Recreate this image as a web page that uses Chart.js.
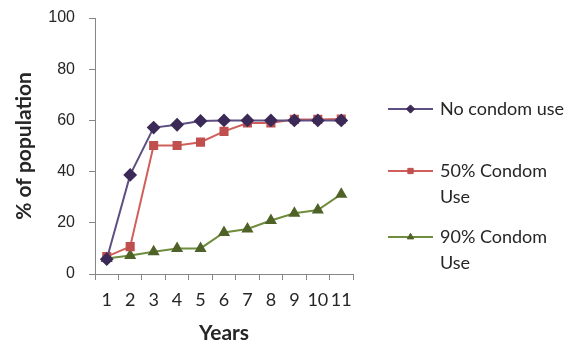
<!DOCTYPE html>
<html>
<head>
<meta charset="utf-8">
<script src="https://cdn.jsdelivr.net/npm/chart.js@4/dist/chart.umd.min.js"></script>
<style>
  html, body { margin: 0; padding: 0; background: #ffffff; }
  #wrap { width: 585px; height: 346px; position: relative; }
</style>
</head>
<body>
<div id="wrap"><canvas id="c" width="585" height="346"></canvas></div>
<script>
// Years since start
const years = ['1', '2', '3', '4', '5', '6', '7', '8', '9', '10', '11'];

// Share of population infected (%) under each scenario
const noCondom = [5.8, 38.7, 57.2, 58.3, 59.8, 60, 60, 60, 60, 60, 60];
const condom50 = [6.8, 10.7, 50.2, 50.2, 51.5, 55.7, 59, 59, 60.4, 60.4, 60.5];
const condom90 = [6.1, 7.2, 8.7, 10, 10, 16.2, 17.6, 20.9, 23.7, 25, 31.2];

// Legend texts, one array per entry (wrapped lines)
const legendLines = [['No condom use'], ['50% Condom', 'Use'], ['90% Condom', 'Use']];

const yTicks = [0, 20, 40, 60, 80, 100];

const axisGray = '#868686';
const textDark = '#262626';

// Legend drawn beside the plot, with wrapped labels
const sideLegend = {
  id: 'sideLegend',
  afterDraw(chart) {
    const ctx = chart.ctx;
    const rows = [109, 171, 237];
    const x0 = 388, x1 = 433, tx = 440, lineGap = 26;
    ctx.save();
    chart.data.datasets.forEach((ds, i) => {
      const y = rows[i];
      ctx.strokeStyle = ds.borderColor;
      ctx.lineWidth = ds.borderWidth;
      ctx.beginPath();
      ctx.moveTo(x0, y);
      ctx.lineTo(x1, y);
      ctx.stroke();
      ctx.fillStyle = ds.pointBackgroundColor;
      ctx.strokeStyle = ds.pointBorderColor;
      ctx.lineWidth = 1;
      Chart.helpers.drawPoint(ctx, {
        pointStyle: ds.pointStyle,
        radius: ds.pointRadius * 0.75,
        borderWidth: 1
      }, (x0 + x1) / 2, y);
      ctx.fillStyle = textDark;
      ctx.font = '18px Lato';
      ctx.textBaseline = 'middle';
      ctx.textAlign = 'left';
      legendLines[i].forEach((t, k) => ctx.fillText(t, tx, y + k * lineGap));
    });
    ctx.restore();
  }
};

new Chart(document.getElementById('c'), {
  type: 'line',
  data: {
    labels: years,
    datasets: [
      {
        label: 'No condom use',
        data: noCondom,
        borderColor: '#5e4f82',
        borderWidth: 2,
        pointStyle: 'rectRot',
        pointRadius: 5.5,
        pointBackgroundColor: '#3b2a57',
        pointBorderColor: '#3b2a57',
        tension: 0
      },
      {
        label: '50% Condom Use',
        data: condom50,
        borderColor: '#d05f5c',
        borderWidth: 2,
        pointStyle: 'rect',
        pointRadius: 5,
        pointBackgroundColor: '#c0504d',
        pointBorderColor: '#c0504d',
        tension: 0
      },
      {
        label: '90% Condom Use',
        data: condom90,
        borderColor: '#6f8d3c',
        borderWidth: 2,
        pointStyle: 'triangle',
        pointRadius: 5,
        pointBackgroundColor: '#4f6228',
        pointBorderColor: '#4f6228',
        tension: 0
      }
    ]
  },
  options: {
    responsive: false,
    animation: false,
    devicePixelRatio: 1,
    layout: { padding: { left: 0, right: 232, top: 18, bottom: 0 } },
    plugins: { legend: { display: false }, tooltip: { enabled: false } },
    scales: {
      x: {
        type: 'category',
        offset: true,
        grid: {
          offset: true,
          drawOnChartArea: false,
          drawTicks: true,
          tickLength: 6,
          color: axisGray
        },
        border: { color: axisGray, width: 1 },
        ticks: {
          color: textDark,
          font: { family: 'Lato', size: 18 },
          padding: 9,
          maxRotation: 0,
          autoSkip: false
        },
        title: {
          display: true,
          text: 'Years',
          color: textDark,
          font: { family: 'Lato', size: 21, weight: 'bold' },
          padding: { top: 0, bottom: 0 }
        },
        afterFit(scale) { scale.height = 72; scale.paddingLeft = 0; scale.paddingRight = 0; }
      },
      y: {
        min: 0,
        max: 100,
        afterBuildTicks(scale) { scale.ticks = yTicks.map(v => ({ value: v })); },
        grid: {
          drawOnChartArea: false,
          drawTicks: true,
          tickLength: 6,
          color: axisGray
        },
        border: { color: axisGray, width: 1 },
        ticks: {
          color: textDark,
          font: { family: 'Liberation Sans', size: 16 },
          padding: 14
        },
        title: {
          display: true,
          text: '% of population',
          color: textDark,
          font: { family: 'Lato', size: 21, weight: 'bold' },
          padding: { top: 12, bottom: 0 }
        },
        afterFit(scale) { scale.width = 95; scale.paddingTop = 0; scale.paddingBottom = 0; }
      }
    }
  },
  plugins: [sideLegend]
});
</script>
</body>
</html>
